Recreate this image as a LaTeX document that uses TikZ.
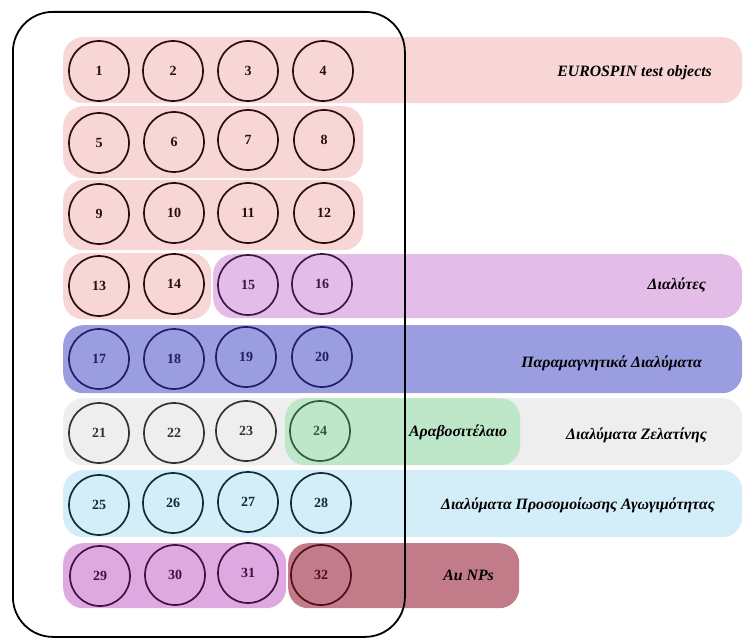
\documentclass[tikz,border=0pt]{standalone}
\usepackage{fontspec}
\setmainfont{Liberation Serif}
\definecolor{pinkband}{HTML}{F8D6D6}
\definecolor{lilacband}{HTML}{E3BCE7}
\definecolor{blueband}{HTML}{9A9EE0}
\definecolor{greyband}{HTML}{EEEEEE}
\definecolor{greenband}{HTML}{BEE6C9}
\definecolor{skyband}{HTML}{D3EEF9}
\definecolor{mauveband}{HTML}{DEA9E1}
\definecolor{wineband}{HTML}{C27B88}
\definecolor{pinkline}{HTML}{2A0D0D}
\definecolor{lilacline}{HTML}{3A1848}
\definecolor{blueline}{HTML}{1E1E6A}
\definecolor{greyline}{HTML}{333333}
\definecolor{greenline}{HTML}{2E5E3E}
\definecolor{skyline}{HTML}{0F2E35}
\definecolor{mauveline}{HTML}{3E1240}
\definecolor{wineline}{HTML}{4A0F1E}

\begin{document}
\begin{tikzpicture}[x=1pt,y=-1pt,
	band/.style={rounded corners=20pt, inner sep=0pt, anchor=north west},
	sample/.style={circle, draw, line width=1.7pt, minimum size=60pt, inner sep=0pt, font=\fontsize{14}{16}\selectfont\bfseries},
	tag/.style={font=\fontsize{15.8}{18}\selectfont\bfseries\itshape, inner sep=0pt}]
	\useasboundingbox (0,0) rectangle (744,639);
	% bands behind the samples
	\node[band, fill=pinkband, minimum width=679pt, minimum height=66pt] (b1) at (63,37) {};
	\node[band, fill=pinkband, minimum width=300pt, minimum height=72pt] (b2) at (63,106) {};
	\node[band, fill=pinkband, minimum width=300pt, minimum height=70pt] (b3) at (63,180) {};
	\node[band, fill=pinkband, minimum width=148pt, minimum height=66pt] (b4a) at (63,253) {};
	\node[band, fill=lilacband, minimum width=529pt, minimum height=64pt] (b4b) at (213,254) {};
	\node[band, fill=blueband, minimum width=679pt, minimum height=68pt] (b5) at (63,325) {};
	\node[band, fill=greyband, minimum width=679pt, minimum height=67pt] (b6a) at (63,398) {};
	\node[band, fill=greenband, minimum width=235pt, minimum height=67pt] (b6b) at (285,398) {};
	\node[band, fill=skyband, minimum width=679pt, minimum height=67pt] (b7) at (63,470) {};
	\node[band, fill=mauveband, minimum width=223pt, minimum height=65pt] (b8a) at (63,543) {};
	\node[band, fill=wineband, minimum width=231pt, minimum height=65pt] (b8b) at (288,543) {};

	% samples
	\node[sample, draw=pinkline, text=pinkline] (s1) at (99,71) {1};
	\node[sample, draw=pinkline, text=pinkline] (s2) at (173,71) {2};
	\node[sample, draw=pinkline, text=pinkline] (s3) at (248,71) {3};
	\node[sample, draw=pinkline, text=pinkline] (s4) at (323,71) {4};
	\node[sample, draw=pinkline, text=pinkline] (s5) at (99,143) {5};
	\node[sample, draw=pinkline, text=pinkline] (s6) at (174,142) {6};
	\node[sample, draw=pinkline, text=pinkline] (s7) at (248,140) {7};
	\node[sample, draw=pinkline, text=pinkline] (s8) at (324,140) {8};
	\node[sample, draw=pinkline, text=pinkline] (s9) at (99,214) {9};
	\node[sample, draw=pinkline, text=pinkline] (s10) at (174,213) {10};
	\node[sample, draw=pinkline, text=pinkline] (s11) at (248,213) {11};
	\node[sample, draw=pinkline, text=pinkline] (s12) at (324,213) {12};
	\node[sample, draw=pinkline, text=pinkline] (s13) at (99,286) {13};
	\node[sample, draw=pinkline, text=pinkline] (s14) at (174,284) {14};
	\node[sample, draw=lilacline, text=lilacline] (s15) at (248,285) {15};
	\node[sample, draw=lilacline, text=lilacline] (s16) at (322,284) {16};
	\node[sample, draw=blueline, text=blueline] (s17) at (99,359) {17};
	\node[sample, draw=blueline, text=blueline] (s18) at (174,359) {18};
	\node[sample, draw=blueline, text=blueline] (s19) at (246,357) {19};
	\node[sample, draw=blueline, text=blueline] (s20) at (322,357) {20};
	\node[sample, draw=greyline, text=greyline] (s21) at (99,433) {21};
	\node[sample, draw=greyline, text=greyline] (s22) at (174,433) {22};
	\node[sample, draw=greyline, text=greyline] (s23) at (246,431) {23};
	\node[sample, draw=greenline, text=greenline] (s24) at (320,431) {24};
	\node[sample, draw=skyline, text=skyline] (s25) at (99,505) {25};
	\node[sample, draw=skyline, text=skyline] (s26) at (173,503) {26};
	\node[sample, draw=skyline, text=skyline] (s27) at (248,502) {27};
	\node[sample, draw=skyline, text=skyline] (s28) at (321,503) {28};
	\node[sample, draw=mauveline, text=mauveline] (s29) at (100,576) {29};
	\node[sample, draw=mauveline, text=mauveline] (s30) at (175,575) {30};
	\node[sample, draw=mauveline, text=mauveline] (s31) at (248,573) {31};
	\node[sample, draw=wineline, text=wineline] (s32) at (321,575) {32};

	% group names
	\node[tag, anchor=east] (t1) at (712,73) {EUROSPIN test objects};
	\node[tag, anchor=east] (t2) at (706,285) {Διαλύτες};
	\node[tag, anchor=east] (t3) at (702,363) {Παραμαγνητικά Διαλύματα};
	\node[tag, anchor=west] (t4) at (409,432) {Αραβοσιτέλαιο};
	\node[tag, anchor=east] (t5) at (707,435) {Διαλύματα Ζελατίνης};
	\node[tag, anchor=east] (t6) at (715,505) {Διαλύματα Προσομοίωσης Αγωγιμότητας};
	\node[tag, anchor=east] (t7) at (494,575) {Au NPs};

	% the outer frame over everything
	\node[draw, line width=1.8pt, rounded corners=40pt, inner sep=0pt, minimum width=392pt, minimum height=625pt, anchor=north west] (frame) at (12,11) {};
\end{tikzpicture}
\end{document}
